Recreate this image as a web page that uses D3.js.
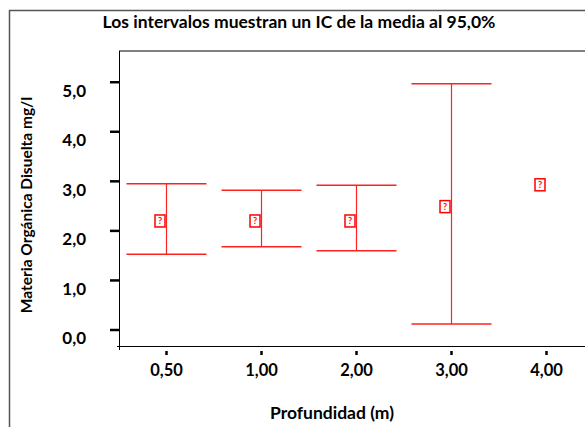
<!DOCTYPE html>
<html>
<head>
<meta charset="utf-8">
<script src="https://cdn.jsdelivr.net/npm/d3@7"></script>
<style>
  body { margin: 0; background: #fff; }
  text { font-family: Lato, "Open Sans", sans-serif; font-weight: bold; fill: #000; }
</style>
</head>
<body>
<div id="chart"></div>
<script>
const categories = ["0,50", "1,00", "2,00", "3,00", "4,00"];
const means = [2.19, 2.19, 2.19, 2.48, 2.92];
const lower = [1.52, 1.67, 1.59, 0.11, null];
const upper = [2.94, 2.81, 2.91, 4.96, null];
const yTicks = [0, 1, 2, 3, 4, 5];

const width = 585, height = 427;
const plot = {left: 119, top: 51, right: 594, bottom: 346};

const svg = d3.select("#chart")
  .append("svg")
  .attr("width", width)
  .attr("height", height);

// outer frame
svg.append("path")
  .attr("d", `M9.5,${height + 5} V10.5 H${width + 5}`)
  .attr("fill", "none")
  .attr("stroke", "#555")
  .attr("stroke-width", 1.5);

svg.append("text")
  .attr("x", 299)
  .attr("y", 28)
  .attr("text-anchor", "middle")
  .style("font-size", "17.5px")
  .text("Los intervalos muestran un IC de la media al 95,0%");

const x = d3.scaleBand()
  .domain(categories)
  .range([plot.left, plot.right]);

const y = d3.scaleLinear()
  .domain([-0.333, 5.62])
  .range([plot.bottom, plot.top]);

// plot top border
svg.append("line")
  .attr("x1", plot.left).attr("x2", width)
  .attr("y1", plot.top).attr("y2", plot.top)
  .attr("stroke", "#555")
  .attr("stroke-width", 1.5);

// y axis
const yAxis = svg.append("g")
  .attr("transform", `translate(${plot.left},0)`)
  .call(d3.axisLeft(y).tickValues(yTicks).tickSize(9).tickPadding(24)
    .tickFormat(d => d3.format(".1f")(d).replace(".", ",")));
yAxis.select(".domain").remove();
yAxis.selectAll(".tick line").attr("stroke-width", 2.5);
yAxis.selectAll(".tick text").style("font-size", "17px").attr("dy", "0.85em");
svg.append("line")
  .attr("x1", plot.left + 0.5).attr("x2", plot.left + 0.5)
  .attr("y1", plot.top).attr("y2", plot.bottom + 4)
  .attr("stroke", "#000");

// x axis
const xAxis = svg.append("g")
  .attr("transform", `translate(0,${plot.bottom})`)
  .call(d3.axisBottom(x).tickSize(0).tickPadding(18));
xAxis.select(".domain").remove();
xAxis.selectAll(".tick").append("line")
  .attr("y1", 5).attr("y2", 9)
  .attr("stroke", "#000")
  .attr("stroke-width", 2.5);
xAxis.selectAll(".tick text").style("font-size", "16.5px");
svg.append("line")
  .attr("x1", plot.left - 2).attr("x2", width)
  .attr("y1", plot.bottom + 0.5).attr("y2", plot.bottom + 0.5)
  .attr("stroke", "#000");

svg.append("text")
  .attr("x", 332)
  .attr("y", 419)
  .attr("text-anchor", "middle")
  .style("font-size", "17.5px")
  .text("Profundidad (m)");

svg.append("text")
  .attr("transform", "translate(32,205) rotate(-90)")
  .attr("text-anchor", "middle")
  .style("font-size", "15.5px")
  .text("Materia Orgánica Disuelta mg/l");

// error bars
const red = "#ff2020";
const capHalf = 40;
const bars = categories.map((c, i) => ({c, m: means[i], lo: lower[i], hi: upper[i]}));
const cx = c => x(c) + x.bandwidth() / 2;

const g = svg.append("g");
bars.filter(d => d.lo !== null).forEach(d => {
  g.append("line")
    .attr("x1", cx(d.c)).attr("x2", cx(d.c))
    .attr("y1", y(d.hi)).attr("y2", y(d.lo))
    .attr("stroke", red).attr("stroke-width", 1.2);
  [d.hi, d.lo].forEach(v => {
    g.append("line")
      .attr("x1", cx(d.c) - capHalf).attr("x2", cx(d.c) + capHalf)
      .attr("y1", y(v)).attr("y2", y(v))
      .attr("stroke", red).attr("stroke-width", 1.5);
  });
});

// mean markers
const mk = g.selectAll(".marker")
  .data(bars)
  .join("g")
  .attr("class", "marker")
  .attr("transform", d => `translate(${cx(d.c) - 6.5},${y(d.m)})`);
mk.append("rect")
  .attr("x", -5).attr("y", -6)
  .attr("width", 10).attr("height", 12)
  .attr("fill", "#fff")
  .attr("stroke", "#f00")
  .attr("stroke-width", 1.5);
mk.append("text")
  .attr("text-anchor", "middle")
  .attr("dy", "0.35em")
  .style("font-size", "9px")
  .style("fill", "#f00")
  .text("?");
</script>
</body>
</html>
